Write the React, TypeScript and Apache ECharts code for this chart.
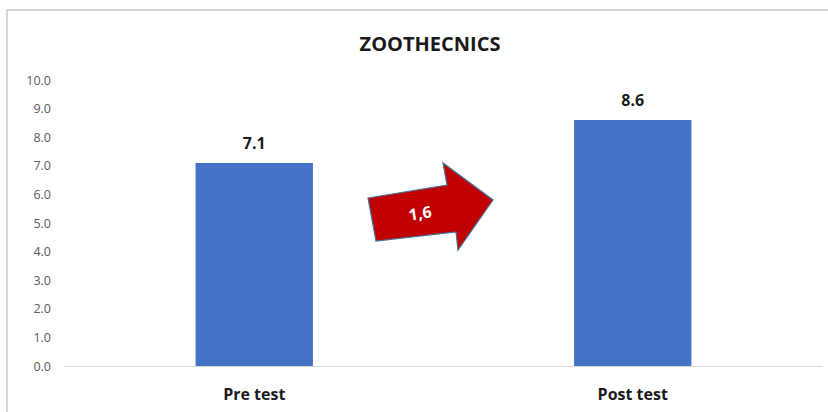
import React, { useEffect, useRef } from "react";
import * as echarts from "echarts";

const categories = ["Pre test", "Post test"];
const scores = [7.1, 8.6];
const chartTitle = "ZOOTHECNICS";
const differenceLabel = "1,6";

export default function App() {
  const ref = useRef<HTMLDivElement>(null);
  useEffect(() => {
    if (!ref.current) return;
    const chart = echarts.init(ref.current, null, { renderer: "svg" });
    const font = "'Open Sans', 'Noto Sans', sans-serif";
    chart.setOption({
      animation: false,
      backgroundColor: "#ffffff",
      title: {
        text: chartTitle,
        left: 425,
        top: 28,
        textAlign: "center",
        textStyle: { fontFamily: font, fontSize: 20, fontWeight: "bold", color: "#1a1a1a" },
      },
      grid: { left: 65, right: 6, top: 80, bottom: 46 },
      xAxis: {
        type: "category",
        data: categories,
        axisLine: { lineStyle: { color: "#d9d9d9", width: 1 } },
        axisTick: { show: false },
        axisLabel: {
          margin: 20,
          fontFamily: font,
          fontSize: 16,
          fontWeight: "bold",
          color: "#1a1a1a",
        },
      },
      yAxis: {
        type: "value",
        min: 0,
        max: 10,
        interval: 1,
        axisLine: { show: false },
        axisTick: { show: false },
        splitLine: { show: false },
        axisLabel: {
          margin: 14,
          fontFamily: font,
          fontSize: 12.5,
          color: "#595959",
          formatter: (v: number) => v.toFixed(1),
        },
      },
      series: [
        {
          type: "bar",
          data: scores,
          barWidth: "31%",
          itemStyle: { color: "#4472C4" },
          label: {
            show: true,
            position: "top",
            distance: 12,
            fontFamily: font,
            fontSize: 16,
            fontWeight: "bold",
            color: "#1a1a1a",
            formatter: (p: any) => Number(p.value).toFixed(1),
          },
        },
      ],
      graphic: [
        {
          type: "rect",
          shape: { x: 7, y: 10, width: 840, height: 420 },
          style: { fill: "none", stroke: "#c6c6c6", lineWidth: 1.5 },
          silent: true,
        },
        {
          type: "polygon",
          shape: {
            points: [
              [368, 198],
              [447, 185],
              [443, 163],
              [493, 200],
              [458, 250],
              [456, 232],
              [376, 241],
            ],
          },
          style: { fill: "#C00000", stroke: "#41719C", lineWidth: 1.2 },
        },
        {
          type: "text",
          x: 420,
          y: 213,
          rotation: 0.15,
          style: {
            text: differenceLabel,
            fill: "#ffffff",
            fontFamily: font,
            fontSize: 16,
            fontWeight: "bold",
            align: "center",
            verticalAlign: "middle",
          },
        },
      ],
    });
    return () => chart.dispose();
  }, []);
  return (
    <div
      ref={ref}
      style={{ position: "fixed", left: 0, top: 0, width: 828, height: 412 }}
    />
  );
}
